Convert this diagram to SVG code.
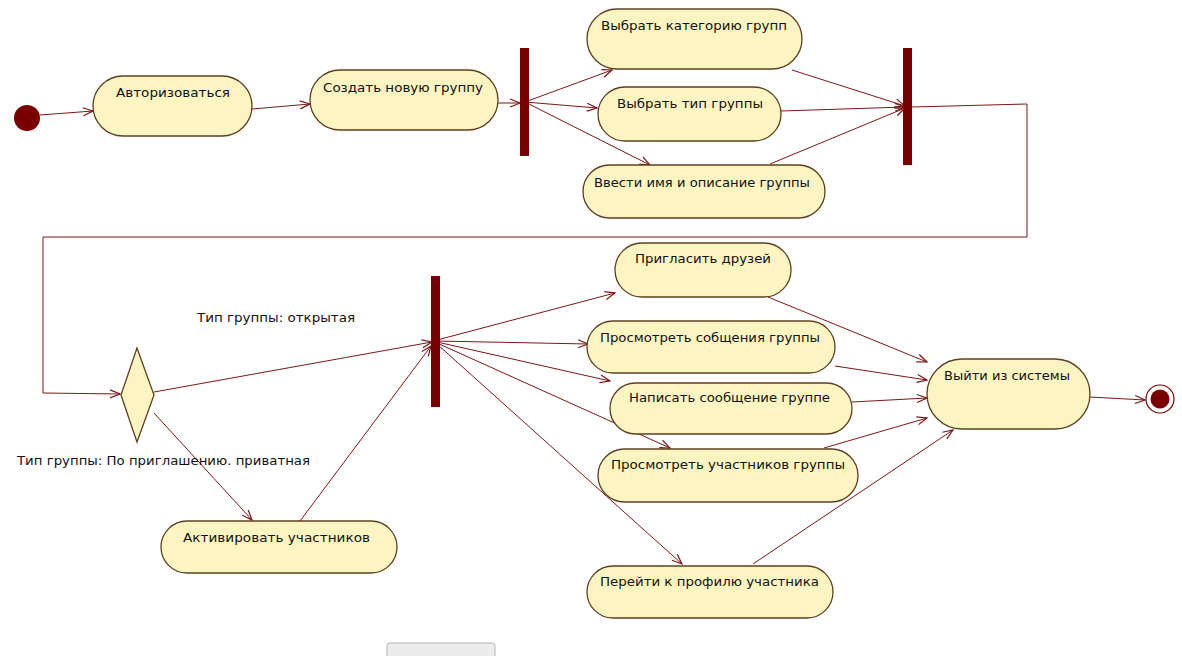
<svg xmlns="http://www.w3.org/2000/svg" width="1182" height="656" viewBox="0 0 1182 656">
<style>
.n{fill:#fcf5c1;stroke:#5e4020;stroke-width:1.3}
.t{font-family:"DejaVu Sans","Liberation Sans",sans-serif;font-size:13px;fill:#111}
.c{fill:none;stroke:#7d1616;stroke-width:1}
.bar{fill:#7a0000}
</style>
<defs>
<marker id="a" viewBox="0 0 12 10" refX="11" refY="5" markerWidth="12" markerHeight="10" markerUnits="userSpaceOnUse" orient="auto"><path d="M1,1 L11,5 L1,9" fill="none" stroke="#7d1616" stroke-width="1.2"/></marker>
</defs>
<rect width="1182" height="656" fill="#fff"/>
<g id="connectors">
<line class="c" x1="40" y1="115" x2="93" y2="111" marker-end="url(#a)"/>
<line class="c" x1="252" y1="109" x2="310" y2="104" marker-end="url(#a)"/>
<line class="c" x1="498" y1="103" x2="520" y2="103" marker-end="url(#a)"/>
<line class="c" x1="525" y1="102" x2="612" y2="70" marker-end="url(#a)"/>
<line class="c" x1="525" y1="102" x2="597" y2="108" marker-end="url(#a)"/>
<line class="c" x1="525" y1="102" x2="650" y2="165" marker-end="url(#a)"/>
<line class="c" x1="792" y1="70" x2="905" y2="106" marker-end="url(#a)"/>
<line class="c" x1="781" y1="111" x2="905" y2="107" marker-end="url(#a)"/>
<line class="c" x1="770" y1="164" x2="905" y2="108" marker-end="url(#a)"/>
<polyline class="c" points="912,107 1027,104 1027,237 43,237 43,393 120,394" marker-end="url(#a)"/>
<line class="c" x1="154" y1="392" x2="432" y2="342" marker-end="url(#a)"/>
<line class="c" x1="154" y1="413" x2="252" y2="520" marker-end="url(#a)"/>
<line class="c" x1="300" y1="521" x2="431" y2="346" marker-end="url(#a)"/>
<line class="c" x1="437" y1="340" x2="615" y2="293" marker-end="url(#a)"/>
<line class="c" x1="437" y1="341" x2="588" y2="344" marker-end="url(#a)"/>
<line class="c" x1="437" y1="342" x2="610" y2="381" marker-end="url(#a)"/>
<line class="c" x1="437" y1="343" x2="670" y2="448" marker-end="url(#a)"/>
<line class="c" x1="437" y1="344" x2="682" y2="564" marker-end="url(#a)"/>
<line class="c" x1="768" y1="297" x2="927" y2="362" marker-end="url(#a)"/>
<line class="c" x1="835" y1="366" x2="927" y2="380" marker-end="url(#a)"/>
<line class="c" x1="852" y1="402" x2="927" y2="398" marker-end="url(#a)"/>
<line class="c" x1="824" y1="448" x2="927" y2="418" marker-end="url(#a)"/>
<line class="c" x1="753" y1="564" x2="953" y2="430" marker-end="url(#a)"/>
<line class="c" x1="1090" y1="397" x2="1145" y2="400" marker-end="url(#a)"/>
</g>
<g id="start"><circle cx="27" cy="118" r="13" fill="#7a0000"/></g>
<g id="n1"><rect class="n" x="93" y="76" width="159" height="60" rx="30"/><text class="t" x="116" y="97" textLength="114" lengthAdjust="spacingAndGlyphs">Авторизоваться</text></g>
<g id="n2"><rect class="n" x="310" y="70" width="188" height="60" rx="30"/><text class="t" x="323" y="92" textLength="160" lengthAdjust="spacingAndGlyphs">Создать новую группу</text></g>
<g id="fork1"><rect class="bar" x="520" y="48" width="9" height="108"/></g>
<g id="n3"><rect class="n" x="587" y="9" width="215" height="60" rx="30"/><text class="t" x="601" y="30" textLength="186" lengthAdjust="spacingAndGlyphs">Выбрать категорию групп</text></g>
<g id="n4"><rect class="n" x="598" y="87" width="183" height="54" rx="27"/><text class="t" x="617" y="108" textLength="146" lengthAdjust="spacingAndGlyphs">Выбрать тип группы</text></g>
<g id="n5"><rect class="n" x="583" y="165" width="242" height="53" rx="26.5"/><text class="t" x="594" y="187" textLength="216" lengthAdjust="spacingAndGlyphs">Ввести имя и описание группы</text></g>
<g id="join1"><rect class="bar" x="903" y="48" width="9" height="117"/></g>
<g id="decision"><polygon class="n" points="137,348 154,395 137,442 121,395"/></g>
<g id="guard1"><text class="t" x="197" y="322" textLength="158" lengthAdjust="spacingAndGlyphs">Тип группы: открытая</text></g>
<g id="guard2"><text class="t" x="17" y="465" textLength="293" lengthAdjust="spacingAndGlyphs">Тип группы: По приглашению. приватная</text></g>
<g id="n6"><rect class="n" x="161" y="521" width="236" height="52" rx="26"/><text class="t" x="183" y="542" textLength="187" lengthAdjust="spacingAndGlyphs">Активировать участников</text></g>
<g id="fork2"><rect class="bar" x="431" y="276" width="9" height="131"/></g>
<g id="n7"><rect class="n" x="615" y="243" width="176" height="54" rx="27"/><text class="t" x="635" y="263" textLength="136" lengthAdjust="spacingAndGlyphs">Пригласить друзей</text></g>
<g id="n8"><rect class="n" x="587" y="321" width="248" height="52" rx="26"/><text class="t" x="600" y="342" textLength="220" lengthAdjust="spacingAndGlyphs">Просмотреть собщения группы</text></g>
<g id="n9"><rect class="n" x="610" y="383" width="242" height="51" rx="25.5"/><text class="t" x="629" y="402" textLength="201" lengthAdjust="spacingAndGlyphs">Написать сообщение группе</text></g>
<g id="n10"><rect class="n" x="598" y="449" width="260" height="53" rx="26.5"/><text class="t" x="611" y="469" textLength="234" lengthAdjust="spacingAndGlyphs">Просмотреть участников группы</text></g>
<g id="n11"><rect class="n" x="587" y="566" width="246" height="52" rx="26"/><text class="t" x="600" y="586" textLength="219" lengthAdjust="spacingAndGlyphs">Перейти к профилю участника</text></g>
<g id="n12"><rect class="n" x="927" y="359" width="163" height="70" rx="35"/><text class="t" x="944" y="380" textLength="126" lengthAdjust="spacingAndGlyphs">Выйти из системы</text></g>
<g id="end"><circle cx="1160" cy="399" r="14" fill="#fff" stroke="#7a0000" stroke-width="1.2"/><circle cx="1160" cy="399" r="9.5" fill="#7a0000"/></g>
<g id="button"><rect x="387" y="643" width="108" height="16" rx="3" fill="#ececec" stroke="#b4b4b4"/></g>
</svg>
